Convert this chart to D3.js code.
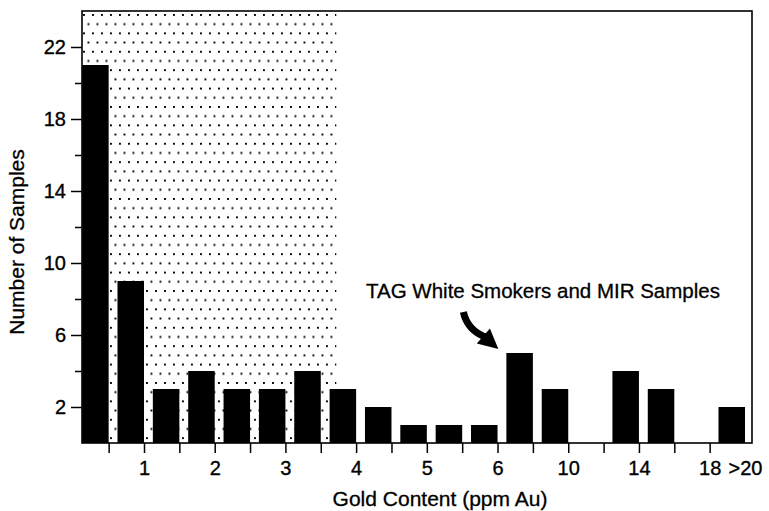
<!DOCTYPE html>
<html>
<head>
<meta charset="utf-8">
<script src="https://cdn.jsdelivr.net/npm/d3@7"></script>
<style>
  html, body { margin: 0; padding: 0; background: #fff; }
  svg { display: block; font-family: "Liberation Sans", Arial, Helvetica, sans-serif; }
</style>
</head>
<body>
<svg id="chart" width="769" height="511"></svg>
<script>
// Histogram bins, keyed by their upper bound (ppm Au)
const binUpper = ["0.5", "1", "1.5", "2", "2.5", "3", "3.5", "4", "4.5", "5", "5.5", "6",
                  "8", "10", "12", "14", "16", "18", ">20"];
// Number of samples in each bin
const counts = [21, 9, 3, 4, 3, 3, 4, 3, 2, 1, 1, 1, 5, 3, 0, 4, 3, 0, 2];
// Bin bounds that carry a label on the x axis
const xTickLabels = ["1", "2", "3", "4", "5", "6", "10", "14", "18", ">20"];
// Y axis ticks
const yMajorTicks = [2, 6, 10, 14, 18, 22];
const yMinorTicks = [4, 8, 12, 16, 20];
// Upper limit of the stippled background range (ppm Au)
const shadeLimit = 3.72;
// Bin the annotation arrow points at
const noteBin = "8";

const yTitle = "Number of Samples";
const xTitle = "Gold Content (ppm Au)";
const noteText = "TAG White Smokers and MIR Samples";

const svg = d3.select("#chart");
const plot = { left: 82, right: 752, top: 11, bottom: 443 };

const x = d3.scaleBand().domain(binUpper).range([73.3, 745]).padding(0);
const y = d3.scaleLinear().domain([0, 24]).range([plot.bottom, plot.top]);

const barFrac = 0.75;                       // bar fills the right part of its bin
const upperEdge = b => x(b) + x.bandwidth();
const barLeft = b => upperEdge(b) - x.bandwidth() * barFrac;

// numeric lower/upper bounds of each bin, for placing values inside bins
const upperNum = binUpper.map(b => b.startsWith(">") ? Infinity : +b);
const lowerNum = upperNum.map((u, i) => i === 0 ? 0 : upperNum[i - 1]);
function xAtValue(v) {
  const i = upperNum.findIndex(u => v <= u);
  const frac = (v - lowerNum[i]) / (upperNum[i] - lowerNum[i]);
  return x(binUpper[i]) + frac * x.bandwidth();
}

// ---- stipple pattern ----
const defs = svg.append("defs");
const pat = defs.append("pattern")
  .attr("id", "stipple")
  .attr("patternUnits", "userSpaceOnUse")
  .attr("x", plot.left + 1).attr("y", plot.top + 3)
  .attr("width", 9).attr("height", 18.4);
pat.append("rect").attr("x", 0).attr("y", 0).attr("width", 1.9).attr("height", 1.9).attr("fill", "#000");
pat.append("rect").attr("x", 4.5).attr("y", 9.2).attr("width", 1.9).attr("height", 1.9).attr("fill", "#000");

defs.append("clipPath").attr("id", "plotClip")
  .append("rect")
  .attr("x", plot.left).attr("y", plot.top)
  .attr("width", plot.right - plot.left).attr("height", plot.bottom - plot.top);

const gPlot = svg.append("g").attr("clip-path", "url(#plotClip)");

gPlot.append("rect")
  .attr("x", plot.left).attr("y", plot.top)
  .attr("width", xAtValue(shadeLimit) - plot.left)
  .attr("height", plot.bottom - plot.top)
  .attr("fill", "url(#stipple)");

// ---- bars ----
gPlot.selectAll("rect.bar")
  .data(binUpper.map((b, i) => ({ bin: b, n: counts[i] })))
  .join("rect")
  .attr("class", "bar")
  .attr("x", d => barLeft(d.bin))
  .attr("width", x.bandwidth() * barFrac)
  .attr("y", d => y(d.n))
  .attr("height", d => y(0) - y(d.n))
  .attr("fill", "#000");

// ---- axes ----
const xEdge = d3.scaleOrdinal().domain(binUpper).range(binUpper.map(upperEdge));
const gx = svg.append("g")
  .attr("transform", `translate(0,${plot.bottom})`)
  .call(d3.axisBottom(xEdge)
    .tickSize(10).tickPadding(8)
    .tickFormat(d => xTickLabels.includes(d) ? d : ""));
gx.select(".domain").remove();
gx.selectAll(".tick line").attr("stroke", "#000").attr("stroke-width", 1.5);
gx.selectAll(".tick").filter(d => d.startsWith(">")).select("line").remove();
gx.selectAll(".tick text").attr("font-size", 20).attr("fill", "#000")
  .attr("font-family", null).attr("stroke", "#000").attr("stroke-width", 0.35);

const gyMinor = svg.append("g")
  .attr("transform", `translate(${plot.left},0)`)
  .call(d3.axisLeft(y).tickValues(yMinorTicks).tickSize(7).tickFormat(""));
gyMinor.select(".domain").remove();
gyMinor.selectAll(".tick line").attr("stroke", "#000").attr("stroke-width", 1.5);

const gy = svg.append("g")
  .attr("transform", `translate(${plot.left},0)`)
  .call(d3.axisLeft(y).tickValues(yMajorTicks).tickSize(11).tickPadding(5).tickFormat(d3.format("d")));
gy.select(".domain").remove();
gy.selectAll(".tick line").attr("stroke", "#000").attr("stroke-width", 1.5);
gy.selectAll(".tick text").attr("font-size", 20).attr("fill", "#000")
  .attr("font-family", null).attr("stroke", "#000").attr("stroke-width", 0.35);

// ---- frame ----
svg.append("rect")
  .attr("x", plot.left).attr("y", plot.top)
  .attr("width", plot.right - plot.left).attr("height", plot.bottom - plot.top)
  .attr("fill", "none").attr("stroke", "#000").attr("stroke-width", 1.6);

// ---- titles ----
svg.append("text")
  .attr("x", 440).attr("y", 506)
  .attr("text-anchor", "middle")
  .attr("font-size", 21)
  .attr("stroke", "#000").attr("stroke-width", 0.3)
  .text(xTitle);

svg.append("text")
  .attr("transform", "translate(24,242) rotate(-90)")
  .attr("text-anchor", "middle")
  .attr("font-size", 21)
  .attr("stroke", "#000").attr("stroke-width", 0.3)
  .text(yTitle);

// ---- annotation ----
svg.append("text")
  .attr("x", 543).attr("y", 298)
  .attr("text-anchor", "middle")
  .attr("font-size", 20.5)
  .attr("stroke", "#000").attr("stroke-width", 0.3)
  .text(noteText);

// curved arrow ending just above the left corner of the annotated bar
const noteIdx = binUpper.indexOf(noteBin);
const tip = [barLeft(noteBin) - 8, y(counts[noteIdx]) - 4];
const base = [tip[0] - 15, tip[1] - 13];
const tail = [tip[0] - 35, tip[1] - 37];
const dir = [tip[0] - base[0], tip[1] - base[1]];
const len = Math.hypot(dir[0], dir[1]);
const perp = [-dir[1] / len, dir[0] / len];
const hw = 10;

svg.append("path")
  .attr("d", `M${tail[0]},${tail[1]} Q${tail[0] + 4},${base[1] - 6} ${base[0] + 2},${base[1] + 1}`)
  .attr("fill", "none").attr("stroke", "#000").attr("stroke-width", 7);

svg.append("path")
  .attr("d", `M${base[0] + perp[0] * hw},${base[1] + perp[1] * hw}` +
             `L${tip[0]},${tip[1]}` +
             `L${base[0] - perp[0] * hw},${base[1] - perp[1] * hw}Z`)
  .attr("fill", "#000");
</script>
</body>
</html>
